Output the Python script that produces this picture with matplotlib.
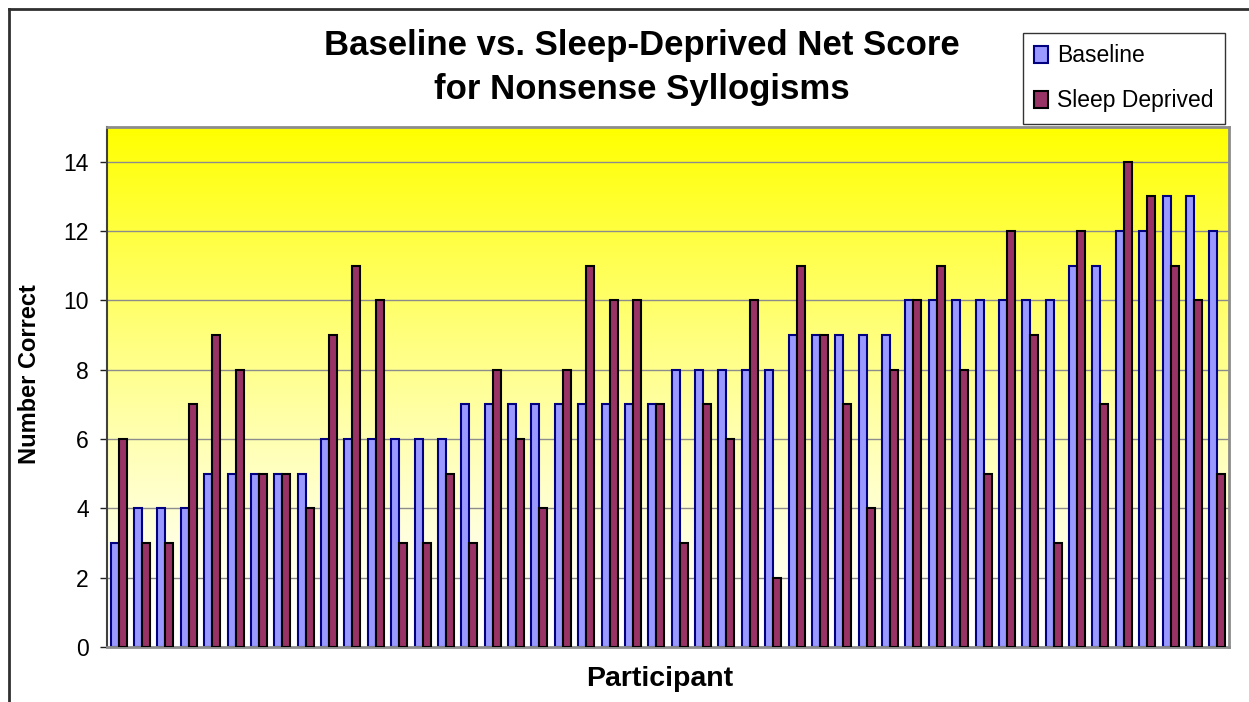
import numpy as np
import matplotlib
matplotlib.use('Agg')
import matplotlib.pyplot as plt
from matplotlib.colors import LinearSegmentedColormap
from matplotlib.lines import Line2D

# net scores per participant, sorted by baseline
baseline = [3, 4, 4, 4, 5, 5, 5, 5, 5, 6, 6, 6, 6, 6, 6, 7, 7, 7, 7, 7, 7, 7, 7, 7,
            8, 8, 8, 8, 8, 9, 9, 9, 9, 9, 10, 10, 10, 10, 10, 10, 10, 11, 11, 12, 12, 13, 13, 12]
sleep_deprived = [6, 3, 3, 7, 9, 8, 5, 5, 4, 9, 11, 10, 3, 3, 5, 3, 8, 6, 4, 8, 11, 10, 10, 7,
                  3, 7, 6, 10, 2, 11, 9, 7, 4, 8, 10, 11, 8, 5, 12, 9, 3, 12, 7, 14, 13, 11, 10, 5]
series_names = ['Baseline', 'Sleep Deprived']

plt.rcParams['font.family'] = ['Liberation Sans', 'DejaVu Sans']

W, H = 1249, 702
fig = plt.figure(figsize=(W / 100, H / 100), dpi=100)
ax = fig.add_axes([107 / W, 1 - 647 / H, 1122 / W, 520 / H])

n = len(baseline)
x = np.arange(n)
ymax = 15

# white-to-yellow backdrop
cmap = LinearSegmentedColormap.from_list('wy', ['#ffffff', '#ffff00'])
grad = np.linspace(0, 1, 256).reshape(-1, 1) ** 1.3
ax.imshow(grad, cmap=cmap, aspect='auto', origin='lower',
          extent=[-0.5, n - 0.5, 0, ymax], zorder=0)

for yv in range(2, 15, 2):
    ax.axhline(yv, color='#8c8c8c', lw=1, zorder=1)

w = 0.34
ax.bar(x - w / 2, baseline, w, color='#9999ff', edgecolor='#000080', lw=1.5,
       label=series_names[0], zorder=2)
ax.bar(x + w / 2, sleep_deprived, w, color='#993366', edgecolor='black', lw=1.5,
       label=series_names[1], zorder=3)

ax.set_xlim(-0.5, n - 0.5)
ax.set_ylim(0, ymax)
ax.set_yticks(range(0, 15, 2))
ax.set_xticks([])
ax.tick_params(axis='y', labelsize=16.5, length=5, width=1, color='#202020', pad=8)

for s in ['top', 'right', 'bottom']:
    ax.spines[s].set_color('#8c8c8c')
    ax.spines[s].set_linewidth(2)
ax.spines['left'].set_color('#404040')
ax.spines['left'].set_linewidth(1.5)

fig.text(30 / W, 1 - 374 / H, 'Number Correct', rotation=90, ha='center', va='center',
         fontsize=17, fontweight='bold')
fig.text(660 / W, 1 - 679 / H, 'Participant', ha='center', va='center',
         fontsize=20.5, fontweight='bold')
fig.text(642 / W, 1 - 45 / H, 'Baseline vs. Sleep-Deprived Net Score', ha='center',
         va='center', fontsize=25, fontweight='bold')
fig.text(642 / W, 1 - 90 / H, 'for Nonsense Syllogisms', ha='center',
         va='center', fontsize=25, fontweight='bold')

leg = fig.legend(loc='upper left', bbox_to_anchor=(1023 / W, 1 - 33 / H), fontsize=16.5,
                 frameon=True, fancybox=False, edgecolor='black', handlelength=0.6,
                 handleheight=0.75, handletextpad=0.4, labelspacing=0.95, borderpad=0.5,
                 borderaxespad=0)
leg.get_frame().set_linewidth(1)

# outer chart border (top and left)
fig.add_artist(Line2D([9 / W, 1], [1 - 9 / H, 1 - 9 / H], color='#303030', lw=2))
fig.add_artist(Line2D([9 / W, 9 / W], [0, 1 - 9 / H], color='#303030', lw=2))

fig.savefig('out.png', dpi=100)
